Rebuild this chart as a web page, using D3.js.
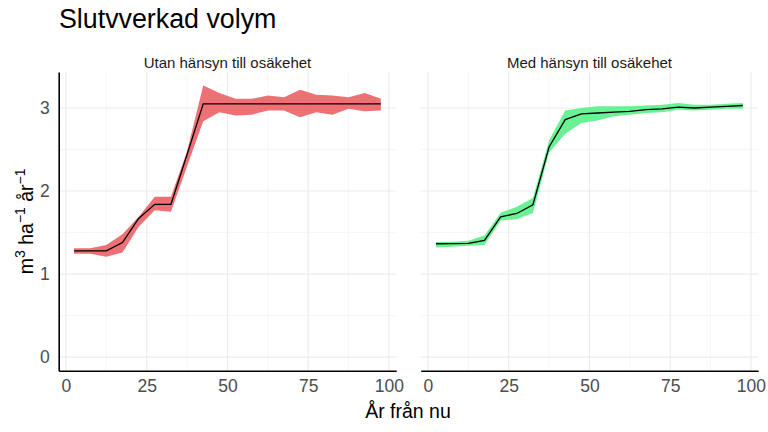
<!DOCTYPE html>
<html>
<head>
<meta charset="utf-8">
<script src="https://cdn.jsdelivr.net/npm/d3@7"></script>
<style>
    body { margin: 0; background: #fff; }
    svg { display: block; font-family: "Liberation Sans", Arial, sans-serif; }
</style>
</head>
<body>
<div id="chart"></div>
<script>
const years = [2.5, 7.5, 12.5, 17.5, 22.5, 27.5, 32.5, 37.5, 42.5, 47.5,
    52.5, 57.5, 62.5, 67.5, 72.5, 77.5, 82.5, 87.5, 92.5, 97.5];

// Utan hänsyn till osäkehet
const utanMean = [1.28, 1.28, 1.28, 1.38, 1.67, 1.84, 1.84, 2.44, 3.05, 3.05,
    3.05, 3.05, 3.05, 3.05, 3.05, 3.05, 3.05, 3.05, 3.05, 3.05];
const utanUpper = [1.31, 1.31, 1.35, 1.48, 1.69, 1.93, 1.93, 2.48, 3.27, 3.18,
    3.11, 3.11, 3.15, 3.13, 3.22, 3.16, 3.15, 3.13, 3.18, 3.11];
const utanLower = [1.245, 1.245, 1.21, 1.26, 1.57, 1.77, 1.75, 2.30, 2.84, 2.95,
    2.91, 2.92, 2.97, 2.97, 2.89, 2.95, 2.92, 2.99, 2.96, 2.97];

// Med hänsyn till osäkehet
const medMean = [1.365, 1.367, 1.37, 1.405, 1.69, 1.73, 1.835, 2.53, 2.86, 2.93,
    2.94, 2.95, 2.96, 2.98, 2.99, 3.01, 3.00, 3.01, 3.02, 3.03];
const medUpper = [1.385, 1.39, 1.40, 1.465, 1.74, 1.81, 1.915, 2.61, 2.97, 3.00,
    3.02, 3.02, 3.02, 3.03, 3.04, 3.06, 3.04, 3.04, 3.05, 3.06];
const medLower = [1.32, 1.33, 1.34, 1.35, 1.645, 1.66, 1.735, 2.465, 2.69, 2.82,
    2.85, 2.90, 2.92, 2.94, 2.95, 2.98, 2.97, 2.98, 2.99, 2.99];

const xTicks = [0, 25, 50, 75, 100];
const xMinor = [12.5, 37.5, 62.5, 87.5];
const yTicks = [0, 1, 2, 3];
const yMinor = [0.5, 1.5, 2.5];

const panels = [
    { label: "Utan hänsyn till osäkehet", mean: utanMean, upper: utanUpper, lower: utanLower, fill: "#ec6469" },
    { label: "Med hänsyn till osäkehet", mean: medMean, upper: medUpper, lower: medLower, fill: "#5cf08a" }
];

document.addEventListener("DOMContentLoaded", function () {

    const W = 768, H = 432;
    const top = 72, bottom = 370.7;
    const panelLeft = [58.7, 420.7];
    const panelWidth = 337.5;
    const font = "'Liberation Sans', Arial, sans-serif";

    const svg = d3.select("#chart")
        .append("svg")
        .attr("width", W)
        .attr("height", H);

    // ggplot-style 5% expansion
    const xExt = d3.extent(years);
    const xPad = (xExt[1] - xExt[0]) * 0.05;
    const yMax = d3.max(panels, p => d3.max(p.upper));
    const yPad = yMax * 0.05;

    const y = d3.scaleLinear()
        .domain([0 - yPad, yMax + yPad])
        .range([bottom, top]);

    panels.forEach((p, i) => {
        const x = d3.scaleLinear()
            .domain([xExt[0] - xPad, xExt[1] + xPad])
            .range([panelLeft[i], panelLeft[i] + panelWidth]);

        const g = svg.append("g");

        // minor grid
        g.selectAll(".xminor").data(xMinor).enter().append("line")
            .attr("x1", d => x(d)).attr("x2", d => x(d))
            .attr("y1", top).attr("y2", bottom)
            .attr("stroke", "#f0f0f0").attr("stroke-width", 0.6);
        g.selectAll(".yminor").data(yMinor).enter().append("line")
            .attr("x1", panelLeft[i]).attr("x2", panelLeft[i] + panelWidth)
            .attr("y1", d => y(d)).attr("y2", d => y(d))
            .attr("stroke", "#f0f0f0").attr("stroke-width", 0.6);

        // major grid
        g.selectAll(".xmajor").data(xTicks).enter().append("line")
            .attr("x1", d => x(d)).attr("x2", d => x(d))
            .attr("y1", top).attr("y2", bottom)
            .attr("stroke", "#ebebeb").attr("stroke-width", 1.1);
        g.selectAll(".ymajor").data(yTicks).enter().append("line")
            .attr("x1", panelLeft[i]).attr("x2", panelLeft[i] + panelWidth)
            .attr("y1", d => y(d)).attr("y2", d => y(d))
            .attr("stroke", "#ebebeb").attr("stroke-width", 1.1);

        const rows = years.map((yr, k) => ({ yr, mean: p.mean[k], lo: p.lower[k], hi: p.upper[k] }));

        const area = d3.area()
            .x(d => x(d.yr))
            .y0(d => y(d.lo))
            .y1(d => y(d.hi));

        g.append("path")
            .datum(rows)
            .attr("d", area)
            .attr("fill", p.fill)
            .attr("fill-opacity", 0.92);

        const line = d3.line()
            .x(d => x(d.yr))
            .y(d => y(d.mean));

        g.append("path")
            .datum(rows)
            .attr("d", line)
            .attr("fill", "none")
            .attr("stroke", "#000")
            .attr("stroke-width", 1.3);

        // x axis
        const xAxis = g.append("g")
            .attr("transform", `translate(0,${bottom})`)
            .call(d3.axisBottom(x).tickValues(xTicks).tickFormat(d3.format("d")).tickSize(0).tickPadding(9));
        xAxis.select(".domain").attr("stroke", "#000").attr("stroke-width", 1.6);
        xAxis.selectAll("text")
            .attr("fill", "#4d4d4d")
            .style("font-size", "17.5px")
            .style("font-family", font);

        if (i === 0) {
            const yAxis = g.append("g")
                .attr("transform", `translate(${panelLeft[i]},0)`)
                .call(d3.axisLeft(y).tickValues(yTicks).tickFormat(d3.format("d")).tickSize(0).tickPadding(9));
            yAxis.select(".domain").attr("stroke", "#000").attr("stroke-width", 1.6);
            yAxis.selectAll("text")
                .attr("fill", "#4d4d4d")
                .style("font-size", "17.5px")
                .style("font-family", font);
        }

        // strip label
        svg.append("text")
            .attr("x", panelLeft[i] + panelWidth / 2)
            .attr("y", 68)
            .attr("text-anchor", "middle")
            .attr("fill", "#1a1a1a")
            .style("font-size", "15px")
            .text(p.label);
    });

    // title
    svg.append("text")
        .attr("x", 59)
        .attr("y", 28)
        .attr("fill", "#000")
        .style("font-size", "26.8px")
        .text("Slutvverkad volym");

    // x axis title
    svg.append("text")
        .attr("x", 408)
        .attr("y", 418)
        .attr("text-anchor", "middle")
        .attr("fill", "#000")
        .style("font-size", "19.5px")
        .text("År från nu");

    // y axis title with superscripts
    const yt = svg.append("text")
        .attr("transform", `translate(33,${(top + bottom) / 2}) rotate(-90)`)
        .attr("text-anchor", "middle")
        .attr("fill", "#000")
        .style("font-size", "19.5px");
    yt.append("tspan").text("m");
    yt.append("tspan").attr("dy", -8).style("font-size", "14px").text("3");
    yt.append("tspan").attr("dy", 8).text(" ha");
    yt.append("tspan").attr("dy", -8).style("font-size", "14px").text("\u22121");
    yt.append("tspan").attr("dy", 8).text(" år");
    yt.append("tspan").attr("dy", -8).style("font-size", "14px").text("\u22121");
});
</script>
</body>
</html>
